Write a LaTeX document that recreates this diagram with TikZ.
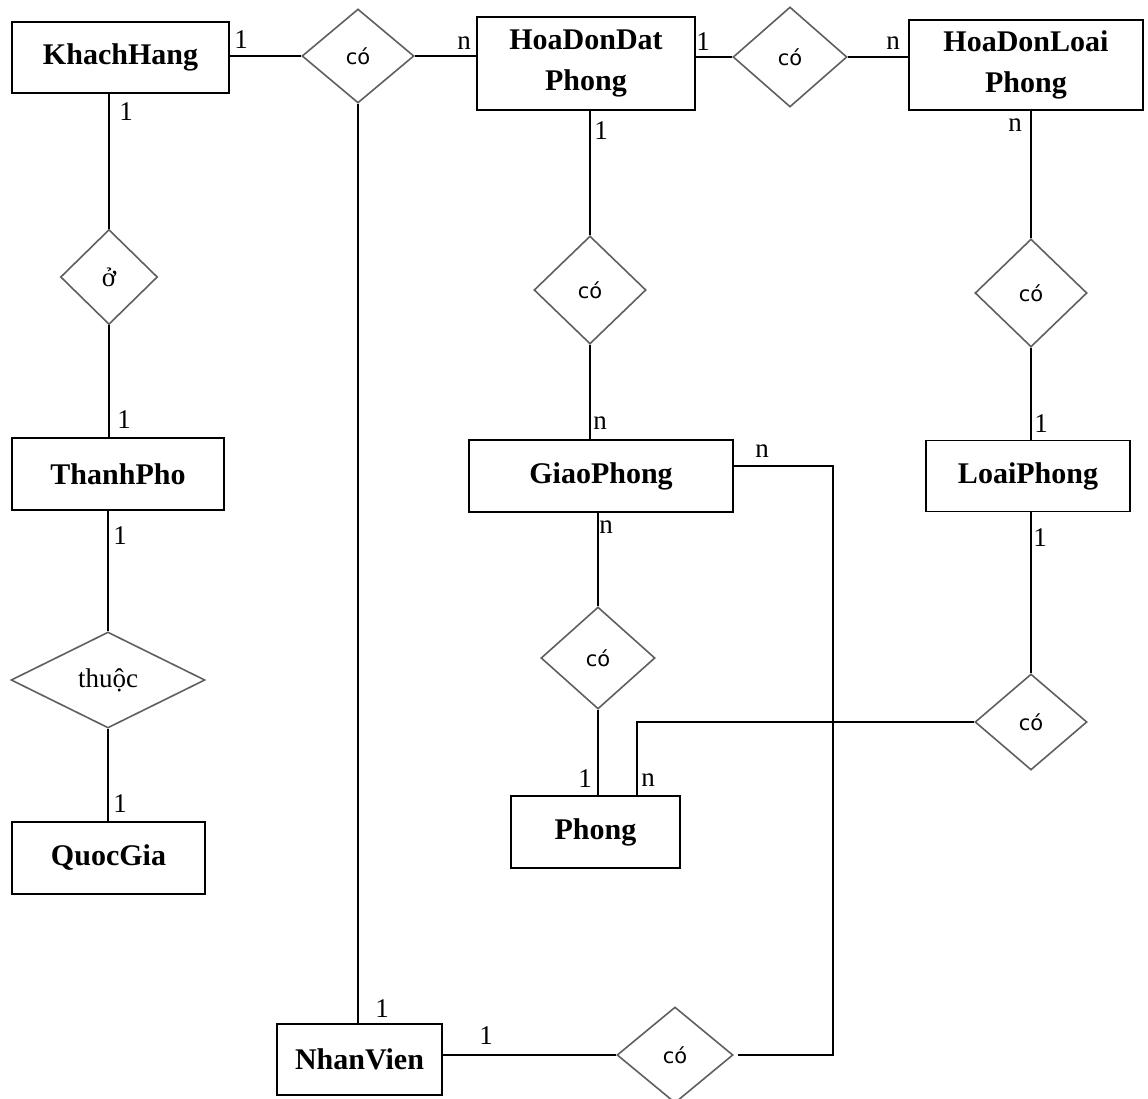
\documentclass[tikz,border=0pt]{standalone}
\usepackage{fontspec}
\setmainfont{Liberation Serif}
\newfontfamily\relfont{DejaVu Sans}
\usetikzlibrary{shapes.geometric}
\definecolor{rimgray}{RGB}{95,95,95}
\begin{document}
\begin{tikzpicture}[x=1pt,y=-1pt,
  entity/.style={draw=black,line width=1.8pt,rectangle,inner sep=0pt,align=center,
    font=\fontsize{30}{41}\selectfont\bfseries},
  rel/.style={draw=rimgray,line width=1.6pt,diamond,inner sep=0pt,
    font=\relfont\fontsize{21}{23}\selectfont},
  relserif/.style={rel,font=\fontsize{27}{29}\selectfont},
  card/.style={inner sep=0pt,font=\fontsize{27}{29}\selectfont},
  link/.style={draw=black,line width=1.8pt}]
\useasboundingbox (0,0) rectangle (1148,1099);

% entities
\node[entity,minimum width=217,minimum height=71] (kh)  at (120.5,57.5) {KhachHang};
\node[entity,minimum width=218,minimum height=93] (hdd) at (586,63.5) {HoaDonDat\\Phong};
\node[entity,minimum width=234,minimum height=90] (hdl) at (1026,65) {HoaDonLoai\\Phong};
\node[entity,minimum width=212,minimum height=72] (tp)  at (118,474) {ThanhPho};
\node[entity,minimum width=264,minimum height=72] (gp)  at (601,476) {GiaoPhong};
\node[entity,minimum width=204,minimum height=71] (lp)  at (1028,476) {LoaiPhong};
\node[entity,minimum width=193,minimum height=72] (qg)  at (108.5,858) {QuocGia};
\node[entity,minimum width=169,minimum height=72] (ph)  at (595.5,832) {Phong};
\node[entity,minimum width=165,minimum height=71] (nv)  at (359.5,1059.5) {NhanVien};

% relationships
\node[rel,minimum width=112,minimum height=94]  (d1) at (358,56) {có};
\node[rel,minimum width=114,minimum height=100] (d2) at (790,57) {có};
\node[rel,minimum width=112,minimum height=108] (d3) at (590,290) {có};
\node[rel,minimum width=112,minimum height=108] (d4) at (1031,293) {có};
\node[relserif,minimum width=97,minimum height=95]  (d5) at (109,277) {ở};
\node[relserif,minimum width=194,minimum height=96] (d6) at (108,680) {thuộc};
\node[rel,minimum width=114,minimum height=102] (d7) at (598,658) {có};
\node[rel,minimum width=112,minimum height=96]  (d8) at (1031,722) {có};
\node[rel,minimum width=116,minimum height=96]  (d9) at (675,1055) {có};

% connectors
\draw[link] (kh.east |- d1.west) -- (d1.west);
\draw[link] (d1.east) -- (d1.east -| hdd.west);
\draw[link] (hdd.east |- d2.west) -- (d2.west);
\draw[link] (d2.east) -- (d2.east -| hdl.west);
\draw[link] (d5.north |- kh.south) -- (d5.north);
\draw[link] (d5.south) -- (d5.south |- tp.north);
\draw[link] (d6.north |- tp.south) -- (d6.north);
\draw[link] (d6.south) -- (d6.south |- qg.north);
\draw[link] (d3.north |- hdd.south) -- (d3.north);
\draw[link] (d3.south) -- (d3.south |- gp.north);
\draw[link] (d7.north |- gp.south) -- (d7.north);
\draw[link] (d7.south) -- (d7.south |- ph.north);
\draw[link] (d4.north |- hdl.south) -- (d4.north);
\draw[link] (d4.south) -- (d4.south |- lp.north);
\draw[link] (d8.north |- lp.south) -- (d8.north);
\draw[link] (d8.west) -| ([xshift=41.5pt]ph.north);
\draw[link] (d1.south) -- (d1.south |- nv.north);
\draw[link] (nv.east |- d9.west) -- (d9.west);
\coordinate (turn) at (833,466);
\draw[link] ([xshift=4pt]d9.east) -| (turn) -- (turn -| gp.east);

% cardinalities
\node[card] (c1)  at (241,40)   {1};
\node[card] (c2)  at (464,43)   {n};
\node[card] (c3)  at (703,42)   {1};
\node[card] (c4)  at (893,43)   {n};
\node[card] (c5)  at (126,112)  {1};
\node[card] (c6)  at (124,420)  {1};
\node[card] (c7)  at (120,536)  {1};
\node[card] (c8)  at (120,804)  {1};
\node[card] (c9)  at (601,131)  {1};
\node[card] (c10) at (600,423)  {n};
\node[card] (c11) at (762,451)  {n};
\node[card] (c12) at (606,527)  {n};
\node[card] (c13) at (585,779)  {1};
\node[card] (c14) at (648,780)  {n};
\node[card] (c15) at (1015,125) {n};
\node[card] (c16) at (1041,424) {1};
\node[card] (c17) at (1040,538) {1};
\node[card] (c18) at (382,1009) {1};
\node[card] (c19) at (486,1036) {1};
\end{tikzpicture}
\end{document}
